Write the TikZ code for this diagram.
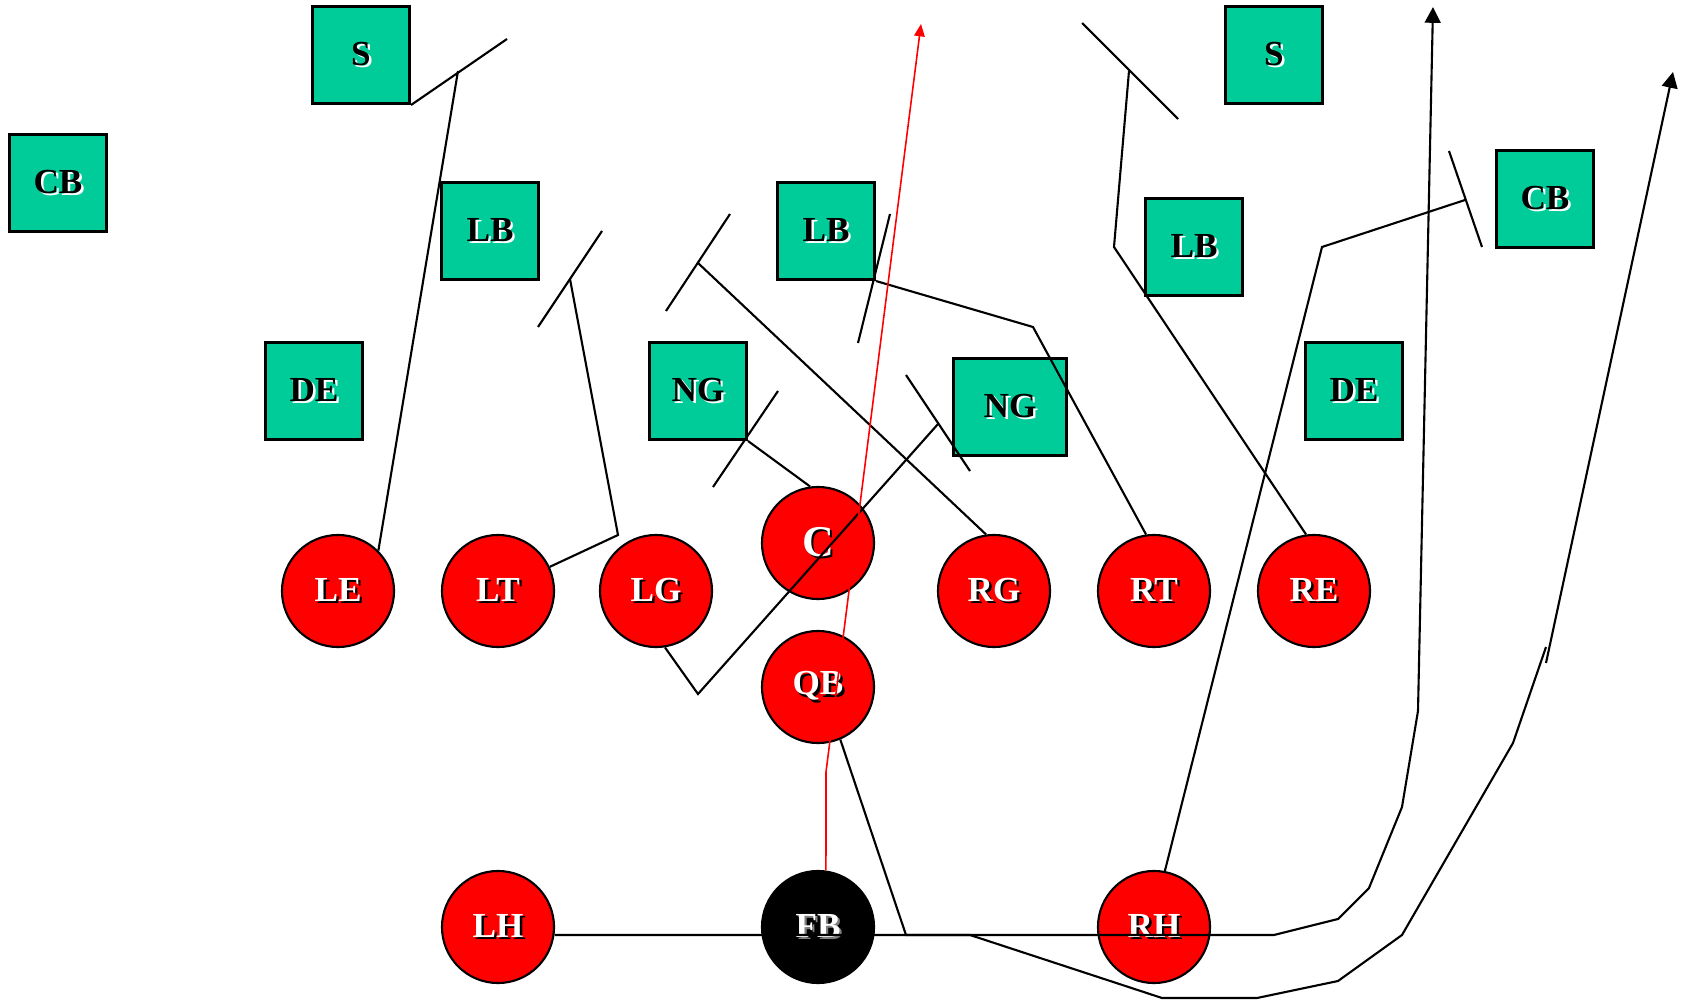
\documentclass[tikz,border=0pt]{standalone}
\usepackage{fontspec}
\setmainfont{Liberation Serif}
\usetikzlibrary{arrows.meta}
\definecolor{defgreen}{RGB}{0,204,153}
\newcommand{\shd}[3]{\rlap{\kern0.7pt\raisebox{-0.7pt}{\color{#2}#3}}{\color{#1}#3}}
\newcommand{\dtxt}[1]{\shd{black}{white}{#1}}
\newcommand{\otxt}[1]{\shd{white}{black}{#1}}
\begin{document}
\begin{tikzpicture}[x=0.01cm, y=-0.01cm]
    \tikzstyle{def}=[rectangle, fill=defgreen, draw=black, line width=0.85pt, minimum size=0.97cm, inner sep=0pt, font=\bfseries\fontsize{10}{12}\selectfont]
    \tikzstyle{off}=[circle, fill=red, draw=black, line width=0.6pt, minimum size=1.12cm, inner sep=0pt, font=\bfseries\fontsize{10}{12}\selectfont]
    \tikzstyle{route}=[black, line width=0.6pt]
    \tikzstyle{run}=[red, line width=0.45pt]

    \useasboundingbox (0,0) rectangle (1687,1000);

    % defense
    \node[def] (sl) at (361,55) {\dtxt{S}};
    \node[def] (sr) at (1274,55) {\dtxt{S}};
    \node[def] (cbl) at (58,183) {\dtxt{CB}};
    \node[def] (cbr) at (1545,199) {\dtxt{CB}};
    \node[def] (lbl) at (490,231) {\dtxt{LB}};
    \node[def] (lbm) at (826,231) {\dtxt{LB}};
    \node[def] (lbr) at (1194,247) {\dtxt{LB}};
    \node[def] (del) at (314,391) {\dtxt{DE}};
    \node[def] (der) at (1354,391) {\dtxt{DE}};
    \node[def] (ngl) at (698,391) {\dtxt{NG}};
    \node[def, minimum width=1.12cm, minimum height=0.96cm] (ngr) at (1010,407) {\dtxt{NG}};

    % offense
    \node[off] (le) at (338,591) {\otxt{LE}};
    \node[off] (lt) at (498,591) {\otxt{LT}};
    \node[off] (lg) at (656,591) {\otxt{LG}};
    \node[off, font=\bfseries\fontsize{12.5}{14}\selectfont] (ce) at (818,543) {\otxt{C}};
    \node[off] (rg) at (994,591) {\otxt{RG}};
    \node[off] (rt) at (1154,591) {\otxt{RT}};
    \node[off] (re) at (1314,591) {\otxt{RE}};
    \node[off] (qb) at (818,687) {\otxt{QB}};
    \node[off] (lh) at (498,927) {\otxt{LH}};
    \node[off, fill=black] (fb) at (818,927) {\shd{white}{gray}{FB}};
    \node[off] (rh) at (1154,927) {\otxt{RH}};

    % blocking points
    \coordinate (le1) at (458,71);   \coordinate (tk1) at (507,39);
    \coordinate (lt1) at (618,535);  \coordinate (lt2) at (570,279);
    \coordinate (tk2a) at (538,327); \coordinate (tk2b) at (602,231);
    \coordinate (lg1) at (698,694);  \coordinate (lg2) at (938,424);
    \coordinate (tk3a) at (906,375); \coordinate (tk3b) at (970,471);
    \coordinate (tk4a) at (713,487); \coordinate (tk4b) at (778,391);
    \coordinate (rg1) at (698,263);
    \coordinate (tk5a) at (666,311); \coordinate (tk5b) at (730,214);
    \coordinate (rt1) at (1033,327);
    \coordinate (tk6a) at (858,343); \coordinate (tk6b) at (890,214);
    \coordinate (re1) at (1114,247); \coordinate (re2) at (1129,71);
    \coordinate (tk7a) at (1082,23); \coordinate (tk7b) at (1178,119);
    \coordinate (rh1) at (1322,247); \coordinate (rh2) at (1465,200);
    \coordinate (tk8a) at (1449,151); \coordinate (tk8b) at (1482,247);

    \draw[route] (le.45) -- (le1);
    \draw[route] (sl.south east) -- (tk1);
    \draw[route] (lt) -- (lt1) -- (lt2);
    \draw[route] (tk2a) -- (tk2b);
    \draw[route] (lg.-81) -- (lg1) -- (lg2);
    \draw[route] (tk3a) -- (tk3b);
    \draw[route] (ce.98) -- (ngl.south east);
    \draw[route] (tk4a) -- (tk4b);
    \draw[route] (rg.98) -- (rg1);
    \draw[route] (tk5a) -- (tk5b);
    \draw[route] (rt.98) -- (rt1) -- (lbm.south east);
    \draw[route] (tk6a) -- (tk6b);
    \draw[route] (re.98) -- (re1) -- (re2);
    \draw[route] (tk7a) -- (tk7b);
    \draw[route] (rh.79) -- (rh1) -- (rh2);
    \draw[route] (tk8a) -- (tk8b);

    % backs
    \coordinate (lh1) at (1274,935); \coordinate (lh2) at (1338,919);
    \coordinate (lh3) at (1369,888); \coordinate (lh4) at (1402,807);
    \coordinate (lh5) at (1418,711); \coordinate (lh6) at (1433,7);
    \draw[route, -{Triangle[length=4.5pt, width=4.5pt]}] (lh.-8) -- (lh1) -- (lh2) -- (lh3) -- (lh4) -- (lh5) -- (lh6);

    \coordinate (qb1) at (906,935);  \coordinate (qb2) at (970,935);
    \coordinate (qb3) at (1162,998); \coordinate (qb4) at (1257,998);
    \coordinate (qb5) at (1338,981); \coordinate (qb6) at (1402,935);
    \coordinate (qb7) at (1513,743); \coordinate (qb8) at (1546,647);
    \coordinate (qb9) at (1546,663); \coordinate (qb10) at (1673,72);
    \draw[route] (qb.-67) -- (qb1) -- (qb2) -- (qb3) -- (qb4) -- (qb5) -- (qb6) -- (qb7) -- (qb8);
    \draw[route, -{Triangle[length=4.5pt, width=4.5pt]}] (qb9) -- (qb10);

    \coordinate (fb1) at (826,772); \coordinate (fb2) at (921,24);
    \draw[run, -{Triangle[length=3.5pt, width=3pt]}] (fb.82) -- (fb1) -- (fb2);
\end{tikzpicture}
\end{document}
